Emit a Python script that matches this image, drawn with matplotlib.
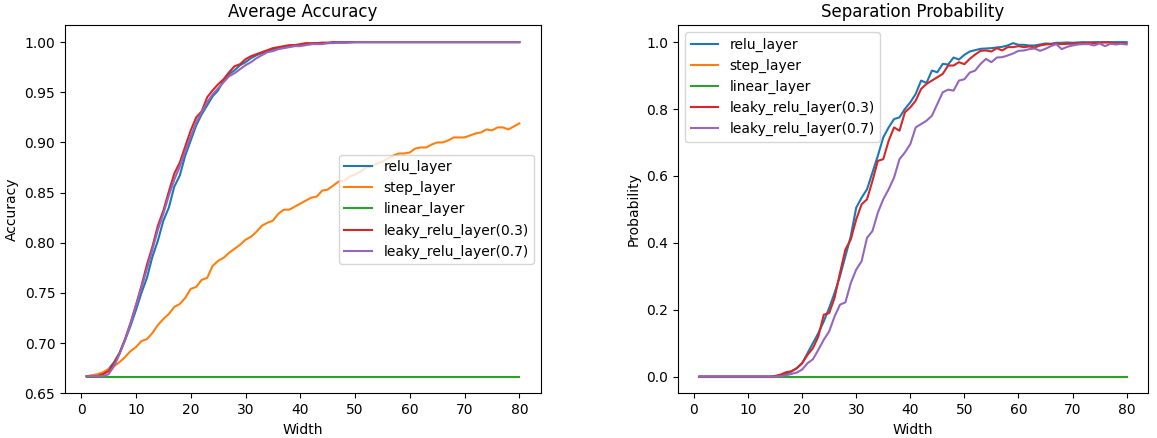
import matplotlib
matplotlib.use("Agg")
import matplotlib.pyplot as plt
import numpy as np

widths = list(range(1, 81))

labels = ["relu_layer", "step_layer", "linear_layer", "leaky_relu_layer(0.3)", "leaky_relu_layer(0.7)"]

acc_relu = [0.667, 0.667, 0.668, 0.670, 0.674, 0.681, 0.690, 0.703, 0.717, 0.733,
            0.750, 0.765, 0.786, 0.802, 0.822, 0.835, 0.856, 0.867, 0.887, 0.902,
            0.917, 0.928, 0.937, 0.946, 0.952, 0.962, 0.968, 0.972, 0.977, 0.980,
            0.984, 0.987, 0.989, 0.991, 0.993, 0.994, 0.995, 0.996, 0.997, 0.997,
            0.998, 0.998, 0.999, 0.999, 0.999, 0.9995, 0.9995, 0.9995, 1.0, 1.0,
            1.0, 1.0, 1.0, 1.0, 1.0, 1.0, 1.0, 1.0, 1.0, 1.0,
            1.0, 1.0, 1.0, 1.0, 1.0, 1.0, 1.0, 1.0, 1.0, 1.0,
            1.0, 1.0, 1.0, 1.0, 1.0, 1.0, 1.0, 1.0, 1.0, 1.0]
acc_step = [0.667, 0.668, 0.669, 0.671, 0.674, 0.677, 0.681, 0.686, 0.692, 0.696,
            0.702, 0.704, 0.710, 0.718, 0.724, 0.729, 0.736, 0.739, 0.745, 0.754,
            0.756, 0.763, 0.765, 0.777, 0.782, 0.785, 0.790, 0.794, 0.798, 0.803,
            0.806, 0.811, 0.817, 0.820, 0.822, 0.829, 0.833, 0.833, 0.836, 0.839,
            0.842, 0.845, 0.846, 0.852, 0.853, 0.857, 0.861, 0.862, 0.866, 0.868,
            0.871, 0.875, 0.876, 0.879, 0.881, 0.884, 0.887, 0.889, 0.889, 0.890,
            0.894, 0.895, 0.895, 0.898, 0.900, 0.900, 0.902, 0.905, 0.905, 0.905,
            0.907, 0.909, 0.910, 0.913, 0.912, 0.915, 0.915, 0.913, 0.916, 0.919]
acc_linear = [0.6666] * 80
acc_leaky03 = [0.667, 0.667, 0.667, 0.669, 0.672, 0.680, 0.690, 0.704, 0.720, 0.738,
               0.757, 0.778, 0.796, 0.817, 0.832, 0.851, 0.869, 0.880, 0.896, 0.912,
               0.925, 0.931, 0.945, 0.952, 0.958, 0.963, 0.970, 0.976, 0.978, 0.983,
               0.986, 0.988, 0.990, 0.992, 0.994, 0.995, 0.996, 0.997, 0.997, 0.998,
               0.999, 0.999, 0.999, 0.9995, 0.9995, 1.0, 1.0, 1.0, 1.0, 1.0,
               1.0, 1.0, 1.0, 1.0, 1.0, 1.0, 1.0, 1.0, 1.0, 1.0,
               1.0, 1.0, 1.0, 1.0, 1.0, 1.0, 1.0, 1.0, 1.0, 1.0,
               1.0, 1.0, 1.0, 1.0, 1.0, 1.0, 1.0, 1.0, 1.0, 1.0]
acc_leaky07 = [0.667, 0.667, 0.667, 0.667, 0.669, 0.677, 0.689, 0.703, 0.719, 0.737,
               0.755, 0.774, 0.793, 0.813, 0.829, 0.847, 0.863, 0.876, 0.891, 0.906,
               0.920, 0.930, 0.940, 0.948, 0.954, 0.960, 0.966, 0.969, 0.973, 0.977,
               0.980, 0.984, 0.987, 0.990, 0.991, 0.993, 0.994, 0.995, 0.996, 0.996,
               0.997, 0.998, 0.998, 0.998, 0.999, 0.999, 0.9995, 0.9995, 0.9995, 1.0,
               1.0, 1.0, 1.0, 1.0, 1.0, 1.0, 1.0, 1.0, 1.0, 1.0,
               1.0, 1.0, 1.0, 1.0, 1.0, 1.0, 1.0, 1.0, 1.0, 1.0,
               1.0, 1.0, 1.0, 1.0, 1.0, 1.0, 1.0, 1.0, 1.0, 1.0]

prob_relu = [0.0] * 15 + [
    0.003, 0.008, 0.015, 0.025, 0.040, 0.070, 0.100, 0.130, 0.165, 0.205,
    0.250, 0.300, 0.360, 0.420, 0.505, 0.535, 0.560, 0.610, 0.660, 0.715,
    0.745, 0.770, 0.775, 0.800, 0.820, 0.845, 0.885, 0.878, 0.915, 0.910,
    0.935, 0.933, 0.954, 0.948, 0.962, 0.972, 0.976, 0.980, 0.981, 0.982,
    0.984, 0.986, 0.990, 0.997, 0.992, 0.992, 0.990, 0.990, 0.993, 0.996,
    0.995, 0.998, 0.998, 0.999, 0.998, 0.999, 1.0, 0.999, 1.0, 1.0,
    1.0, 1.0, 1.0, 1.0, 1.0]
prob_step = [0.0] * 80
prob_linear = [0.0] * 80
prob_leaky03 = [0.0] * 14 + [
    0.002, 0.006, 0.013, 0.016, 0.025, 0.040, 0.065, 0.085, 0.120, 0.185,
    0.190, 0.235, 0.310, 0.380, 0.410, 0.470, 0.515, 0.530, 0.585, 0.645,
    0.650, 0.705, 0.745, 0.735, 0.790, 0.805, 0.825, 0.860, 0.875, 0.885,
    0.895, 0.905, 0.930, 0.930, 0.940, 0.934, 0.950, 0.963, 0.974, 0.975,
    0.972, 0.982, 0.975, 0.985, 0.985, 0.988, 0.985, 0.987, 0.984, 0.990,
    0.993, 0.994, 0.995, 0.994, 0.995, 0.995, 0.997, 0.997, 0.999, 0.997,
    0.998, 0.999, 0.999, 0.996, 0.997, 0.996]
prob_leaky07 = [0.0] * 15 + [
    0.001, 0.004, 0.008, 0.012, 0.021, 0.040, 0.052, 0.080, 0.110, 0.135,
    0.180, 0.215, 0.222, 0.280, 0.320, 0.345, 0.415, 0.435, 0.490, 0.530,
    0.560, 0.595, 0.650, 0.670, 0.695, 0.745, 0.755, 0.765, 0.780, 0.815,
    0.850, 0.858, 0.855, 0.885, 0.889, 0.909, 0.915, 0.935, 0.950, 0.940,
    0.954, 0.955, 0.960, 0.966, 0.974, 0.975, 0.979, 0.981, 0.974, 0.980,
    0.988, 0.994, 0.979, 0.986, 0.990, 0.993, 0.994, 0.994, 0.990, 0.996,
    0.988, 0.995, 0.993, 0.995, 0.993]

fig = plt.figure(figsize=(11.57, 4.38), dpi=100)
ax1 = fig.add_axes([0.0562, 0.102, 0.4114, 0.840])
ax2 = fig.add_axes([0.5860, 0.102, 0.4062, 0.840])

for series, lab in zip([acc_relu, acc_step, acc_linear, acc_leaky03, acc_leaky07], labels):
    ax1.plot(widths, series, label=lab)
ax1.set_title("Average Accuracy")
ax1.set_xlabel("Width")
ax1.set_ylabel("Accuracy")
ax1.legend(loc="center right")

for series, lab in zip([prob_relu, prob_step, prob_linear, prob_leaky03, prob_leaky07], labels):
    ax2.plot(widths, series, label=lab)
ax2.set_title("Separation Probability")
ax2.set_xlabel("Width")
ax2.set_ylabel("Probability")
ax2.legend(loc="upper left")

fig.savefig("out.png", dpi=100)
